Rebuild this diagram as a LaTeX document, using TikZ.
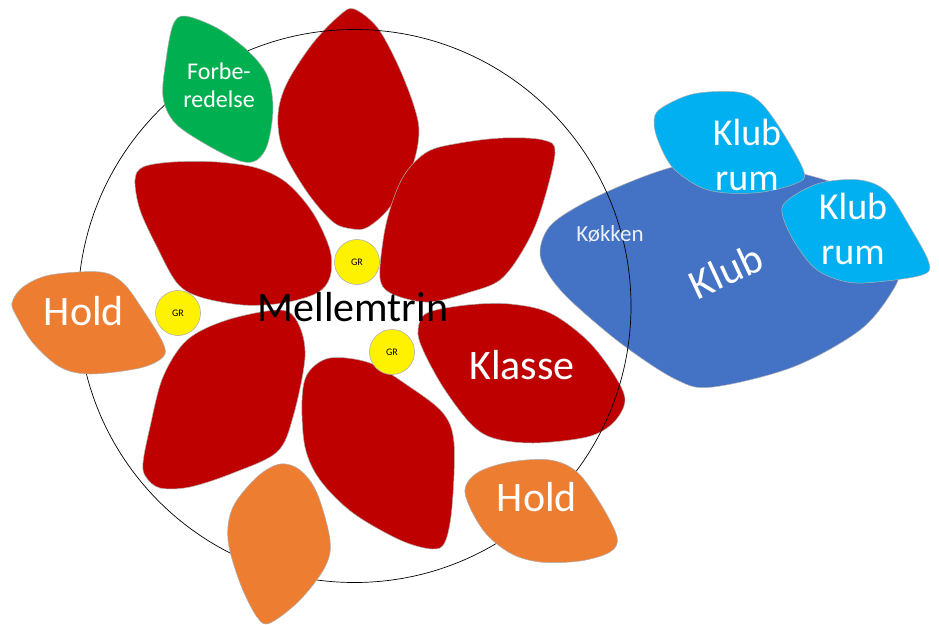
\documentclass[tikz,border=0pt]{standalone}
\usepackage{fontspec}
\setmainfont{Carlito}
\definecolor{petal}{HTML}{BE0000}
\definecolor{holdc}{HTML}{ED7D31}
\definecolor{prep}{HTML}{00B050}
\definecolor{klubc}{HTML}{4472C4}
\definecolor{room}{HTML}{00B0F0}
\definecolor{edge}{HTML}{B0B0B0}
\tikzset{
  blob/.style={draw=edge,line width=0.5pt,smooth cycle,tension=0.55},
  lab/.style={text=white,inner sep=0pt,align=center},
  grp/.style={circle,fill=yellow,draw=edge,line width=0.6pt,minimum size=45pt,inner sep=0pt,font=\fontsize{10}{10}\selectfont},
  big/.style={font=\fontsize{42}{45}\selectfont},
  roomtext/.style={font=\fontsize{38}{45}\selectfont},
}
\begin{document}
\begin{tikzpicture}[x=1pt,y=-1pt]
\useasboundingbox (0,0) rectangle (939,624);
% petals
\fill[petal,blob] plot coordinates {(354,9)(377,27)(397,63)(413,103)(419,132)(412,167)(390,207)(368,227)(353,229)(333,222)(307,192)(283,150)(278,115)(287,83)(313,43)(340,15)};
\fill[petal,blob] plot coordinates {(135,180)(143,167)(173,162)(217,162)(257,168)(287,183)(313,213)(330,250)(330,277)(317,293)(283,303)(243,305)(200,297)(177,283)(157,247)(140,210)};
\fill[petal,blob] plot coordinates {(555,153)(543,140)(503,138)(460,143)(427,152)(403,177)(387,220)(380,267)(383,287)(400,297)(430,302)(467,293)(500,280)(523,250)(540,213)};
\fill[petal,blob] plot coordinates {(418,330)(427,313)(467,305)(510,304)(550,313)(587,340)(613,373)(625,400)(613,423)(587,437)(533,443)(493,438)(470,423)(443,387)(423,350)};
\fill[petal,blob] plot coordinates {(302,400)(308,373)(330,358)(370,363)(410,387)(443,413)(454,443)(452,507)(445,542)(432,549)(400,540)(353,513)(320,480)(305,447)};
\fill[petal,blob] plot coordinates {(143,463)(150,427)(163,377)(187,340)(227,320)(280,310)(298,323)(305,357)(293,417)(277,452)(233,473)(190,487)(160,488)(146,477)};
% club
\fill[klubc,blob] plot coordinates {(540,250)(553,223)(600,195)(673,167)(740,160)(800,173)(850,190)(890,225)(900,265)(893,290)(860,330)(793,367)(713,387)(677,380)(623,345)(570,300)(547,272)};
% big circle
\node[circle,draw=black,line width=0.7pt,minimum size=553pt,inner sep=0pt] (ring) at (354.5,306) {};
% yellow groups
\node[grp] (gr1) at (357,262) {GR};
\node[grp] (gr2) at (178,313) {GR};
\node[grp] (gr3) at (392,352) {GR};
% satellites
\fill[prep,blob] plot coordinates {(185,16)(217,28)(247,50)(267,75)(273,107)(268,143)(257,160)(240,161)(207,145)(175,123)(163,97)(166,60)(173,25)};
\fill[holdc,blob] plot coordinates {(12,303)(23,287)(50,275)(100,272)(123,283)(143,310)(163,343)(163,357)(140,368)(90,374)(60,367)(33,343)(17,317)};
\fill[holdc,blob] plot coordinates {(280,464)(300,470)(317,493)(330,540)(325,567)(300,600)(270,623)(257,617)(240,583)(228,540)(233,507)(257,477)};
\fill[holdc,blob] plot coordinates {(465,493)(477,473)(510,462)(550,460)(577,472)(600,503)(617,537)(610,552)(580,561)(540,562)(510,553)(483,530)};
\fill[room,blob] plot coordinates {(654,123)(660,109)(693,94)(737,92)(760,102)(783,133)(804,172)(797,183)(763,192)(727,193)(700,187)(673,168)(659,143)};
\fill[room,blob] plot coordinates {(782,213)(789,199)(820,183)(860,180)(887,192)(910,227)(929,263)(922,275)(877,282)(847,282)(817,270)(795,243)};
% labels
\node[inner sep=0pt,text=black,big] (mel) at (353,307) {Mellemtrin};
\node[lab,big] (hold1) at (84,311) {Hold};
\node[lab,big] (hold2) at (537,497) {Hold};
\node[lab,big] (klasse) at (522,365) {Klasse};
\node[lab,font=\fontsize{24}{28}\selectfont] (forbe) at (219,85) {Forbe-\\redelse};
\node[lab,roomtext] (room1) at (747,155) {Klub\\rum};
\node[lab,roomtext] (room2) at (853,229) {Klub\\rum};
\node[lab,font=\fontsize{23}{24}\selectfont,text=white!90!klubc] (kok) at (610,234) {Køkken};
\node[lab,big,rotate=25] (klub) at (726,271) {Klub};
\end{tikzpicture}
\end{document}
